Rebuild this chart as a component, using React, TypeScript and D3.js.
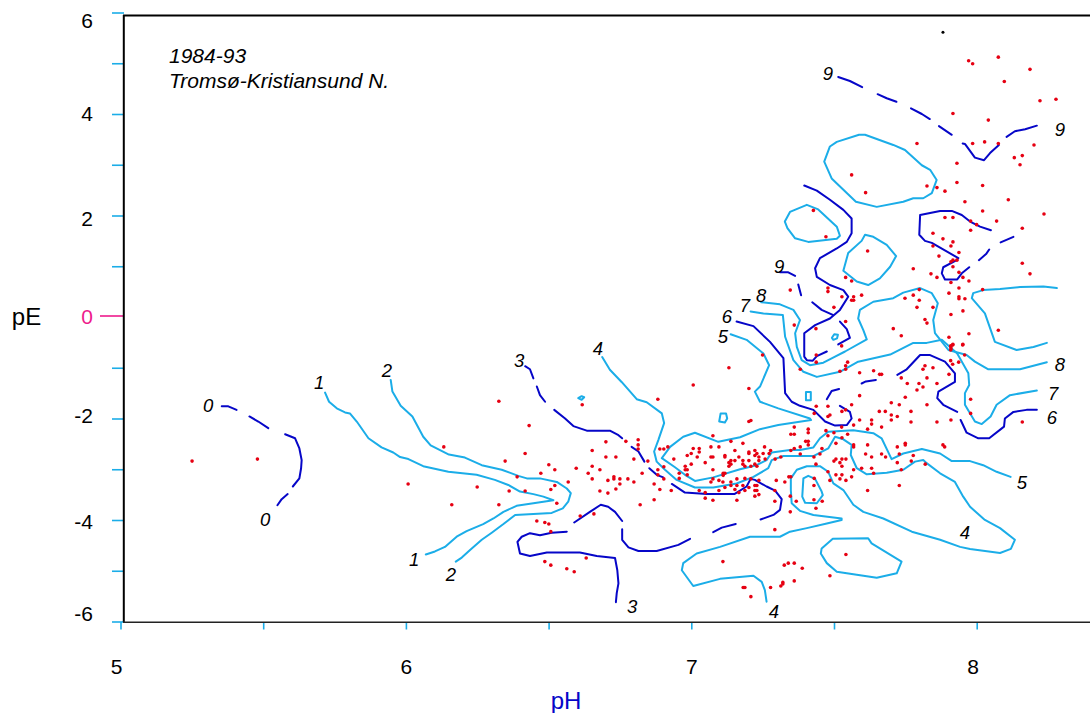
import React from "react";
import * as d3 from "d3";

type Pt = [number, number];

const level0: Pt[][] = [
  [[5.353,-1.75],[5.376,-1.75],[5.405,-1.82]],
  [[5.45,-1.95],[5.481,-2.05],[5.516,-2.18]],
  [[5.575,-2.30],[5.61,-2.38],[5.625,-2.58],[5.633,-2.81],[5.631,-2.97],[5.625,-3.17],[5.602,-3.33]],
  [[5.584,-3.48],[5.563,-3.58],[5.548,-3.70]],
];
const level1: Pt[][] = [
  [[5.715,-1.48],[5.729,-1.66],[5.756,-1.79],[5.785,-1.87],[5.802,-1.89],[5.826,-2.05],[5.867,-2.38],[5.913,-2.56],[5.954,-2.66],[5.978,-2.75],[6.007,-2.79],[6.059,-2.93],[6.147,-3.04],[6.246,-3.10],[6.31,-3.20],[6.357,-3.30],[6.398,-3.43],[6.445,-3.48],[6.48,-3.53],[6.515,-3.60],[6.445,-3.66],[6.386,-3.71],[6.34,-3.83],[6.305,-3.96],[6.269,-4.07],[6.211,-4.21],[6.176,-4.32],[6.135,-4.52],[6.10,-4.61],[6.068,-4.67]],
];
const level2: Pt[][] = [
  [[5.945,-1.23],[5.951,-1.46],[5.98,-1.74],[6.021,-1.95],[6.059,-2.35],[6.085,-2.52],[6.149,-2.70],[6.205,-2.76],[6.264,-2.91],[6.334,-3.00],[6.392,-3.12],[6.422,-3.17],[6.468,-3.17],[6.527,-3.24],[6.562,-3.37],[6.576,-3.46],[6.567,-3.63],[6.548,-3.76],[6.509,-3.85],[6.445,-3.87],[6.381,-3.89],[6.34,-4.07],[6.299,-4.24],[6.264,-4.38],[6.223,-4.58],[6.194,-4.73],[6.173,-4.81]],
];
const level3: Pt[][] = [
  [[6.416,-0.96],[6.433,-1.02],[6.445,-1.20]],
  [[6.457,-1.36],[6.468,-1.53],[6.486,-1.66]],
  [[6.518,-1.82],[6.556,-1.99],[6.585,-2.14],[6.632,-2.23],[6.713,-2.23],[6.743,-2.32],[6.756,-2.38]],
  [[6.789,-2.55],[6.813,-2.64],[6.834,-2.84]],
  [[6.851,-2.97],[6.877,-3.10],[6.90,-3.15]],
  [[6.93,-3.28],[6.976,-3.45],[7.052,-3.48],[7.149,-3.48],[7.192,-3.33],[7.206,-3.18],[7.221,-3.20],[7.262,-3.33],[7.292,-3.41],[7.315,-3.58],[7.309,-3.79],[7.286,-3.89],[7.241,-3.98]],
  [[7.154,-4.07],[7.105,-4.14],[7.075,-4.23]],
  [[6.756,-4.17],[6.756,-4.38],[6.778,-4.53],[6.813,-4.60],[6.877,-4.60],[6.953,-4.48],[6.994,-4.36]],
  [[6.756,-4.01],[6.731,-3.83],[6.707,-3.73],[6.681,-3.69],[6.643,-3.83],[6.588,-4.04]],
  [[6.562,-4.22],[6.509,-4.24],[6.468,-4.29],[6.433,-4.25],[6.404,-4.32],[6.389,-4.42],[6.398,-4.65],[6.433,-4.70],[6.492,-4.63],[6.608,-4.63],[6.667,-4.70],[6.731,-4.74],[6.739,-4.98],[6.743,-5.24],[6.737,-5.43],[6.734,-5.61]],
];
const level4: Pt[][] = [
  [[6.686,-0.78],[6.713,-1.03],[6.754,-1.27],[6.807,-1.61],[6.842,-1.67],[6.895,-1.89],[6.903,-2.08],[6.883,-2.41],[6.868,-2.64],[6.877,-2.84],[6.906,-3.00],[6.947,-3.20],[7.011,-3.35],[7.075,-3.35],[7.157,-3.27],[7.216,-3.14],[7.268,-2.97],[7.28,-2.81],[7.321,-2.73],[7.426,-2.73],[7.478,-2.58],[7.502,-2.35],[7.531,-2.40],[7.56,-2.51],[7.557,-2.71],[7.578,-2.97],[7.613,-3.09],[7.683,-3.06],[7.741,-3.00],[7.782,-2.84],[7.811,-2.81],[7.823,-2.87],[7.87,-3.07],[7.922,-3.24],[7.951,-3.53],[7.975,-3.73],[8.027,-3.99],[8.08,-4.15],[8.132,-4.38],[8.118,-4.56],[8.08,-4.64],[7.975,-4.56],[7.94,-4.52],[7.87,-4.38],[7.771,-4.22],[7.671,-3.96],[7.601,-3.83],[7.566,-3.69],[7.531,-3.40],[7.496,-3.27],[7.478,-3.04],[7.449,-2.93],[7.403,-2.93],[7.368,-3.00],[7.347,-3.17],[7.347,-3.40],[7.35,-3.66],[7.379,-3.81],[7.426,-3.89],[7.525,-3.96],[7.525,-3.99],[7.473,-4.06],[7.403,-4.15],[7.344,-4.22],[7.309,-4.32],[7.204,-4.32],[7.099,-4.52],[7.017,-4.65],[6.97,-4.84],[6.965,-4.98],[7.005,-5.29],[7.099,-5.15],[7.216,-5.09],[7.245,-5.21],[7.256,-5.37],[7.262,-5.60]],
];
const level5: Pt[][] = [
  [[7.136,-0.33],[7.192,-0.44],[7.251,-0.71],[7.271,-0.94],[7.239,-1.36],[7.221,-1.46],[7.239,-1.66],[7.303,-1.79],[7.414,-1.99],[7.418,-2.02],[7.303,-2.12],[7.239,-2.20],[7.169,-2.36],[7.093,-2.45],[7.011,-2.27],[6.97,-2.35],[6.924,-2.55],[6.895,-2.77],[6.941,-2.95],[6.976,-3.10],[7.011,-3.22],[7.075,-3.15],[7.169,-2.99],[7.227,-2.91],[7.262,-2.81],[7.28,-2.66],[7.344,-2.61],[7.379,-2.61],[7.426,-2.56],[7.449,-2.38],[7.478,-2.25],[7.566,-2.22],[7.636,-2.28],[7.665,-2.38],[7.70,-2.79],[7.741,-2.68],[7.806,-2.59],[7.87,-2.68],[7.911,-2.83],[7.975,-2.83],[8.021,-2.91],[8.068,-3.04],[8.117,-3.14]],
];
const level6: Pt[][] = [
  [[7.157,-0.08],[7.216,-0.17],[7.274,-0.48],[7.321,-0.80],[7.327,-1.49],[7.35,-1.66],[7.379,-1.74],[7.426,-1.82],[7.467,-2.05],[7.502,-2.13],[7.543,-2.12],[7.56,-1.99],[7.554,-1.86],[7.519,-1.74]],
  [[7.516,-1.41],[7.49,-1.45],[7.473,-1.61]],
  [[7.645,-1.23],[7.61,-1.26],[7.595,-1.30]],
  [[7.72,-1.13],[7.753,-1.02],[7.80,-0.74],[7.835,-0.74],[7.887,-0.87],[7.922,-1.10],[7.922,-1.27],[7.864,-1.46],[7.86,-1.59],[7.881,-1.72],[7.93,-1.86]],
  [[7.942,-2.02],[7.963,-2.27],[8.004,-2.38],[8.042,-2.38],[8.094,-2.15],[8.097,-1.99],[8.127,-1.86],[8.173,-1.82],[8.209,-1.82]],
];
const level7: Pt[][] = [
  [[7.206,0.12],[7.251,0.08],[7.319,0.05],[7.327,-0.38],[7.356,-0.84],[7.391,-1.07],[7.438,-1.17],[7.519,-1.07],[7.583,-0.87],[7.695,-0.73],[7.776,-0.50],[7.823,-0.50],[7.876,-0.44],[7.93,-0.71],[7.969,-1.10],[7.972,-1.33],[7.957,-1.49],[7.957,-1.72],[7.992,-2.05],[8.016,-2.10],[8.047,-1.95],[8.068,-1.72],[8.115,-1.53],[8.209,-1.44]],
];
const level8: Pt[][] = [
  [[7.243,0.30],[7.309,0.26],[7.356,0.15],[7.379,-0.05],[7.362,-0.31],[7.368,-0.58],[7.385,-0.84],[7.414,-0.94],[7.461,-0.89],[7.502,-0.77],[7.537,-0.67],[7.613,-0.43],[7.601,-0.25],[7.583,-0.02],[7.589,0.15],[7.636,0.31],[7.706,0.38],[7.741,0.49],[7.80,0.58],[7.841,0.48],[7.862,0.28],[7.846,-0.05],[7.852,-0.31],[7.899,-0.64],[7.963,-0.74],[7.992,-0.87],[8.039,-1.02],[8.15,-1.02],[8.244,-0.88]],
  [[8.279,0.58],[8.232,0.61],[8.15,0.60],[8.08,0.56],[8.021,0.54],[7.986,0.48],[7.981,0.38],[8.027,0.08],[8.062,-0.48],[8.138,-0.64],[8.197,-0.58],[8.244,-0.50]],
];
const level9: Pt[][] = [
  [[7.309,0.89],[7.338,0.89],[7.362,0.82]],
  [[7.373,0.65],[7.383,0.44]],
  [[7.422,0.30],[7.455,0.15],[7.494,0.05]],
  [[7.519,-0.08],[7.543,-0.23],[7.554,-0.40],[7.513,-0.53]],
  [[7.473,-0.67],[7.438,-0.76],[7.424,-0.85],[7.403,-0.84],[7.394,-0.77],[7.394,-0.31],[7.432,-0.15],[7.484,-0.02],[7.519,0.15],[7.548,0.41],[7.531,0.54],[7.484,0.64],[7.438,0.80],[7.432,0.97],[7.449,1.17],[7.508,1.36],[7.543,1.49],[7.56,1.66],[7.56,1.95],[7.531,2.12],[7.484,2.32],[7.438,2.50],[7.394,2.60]],
  [[8.048,1.72],[8.01,1.79],[7.975,1.89],[7.946,2.02],[7.911,2.10],[7.87,2.10],[7.80,2.02],[7.797,1.63],[7.817,1.51],[7.841,1.47],[7.934,1.17],[7.928,1.13],[7.881,0.99],[7.876,0.87],[7.887,0.75],[7.93,0.75],[7.946,0.87],[7.972,0.99]],
  [[8.006,1.13],[8.031,1.25],[8.042,1.34]],
  [[8.082,1.48],[8.127,1.59]],
  [[7.513,4.74],[7.554,4.66],[7.597,4.54]],
  [[7.651,4.40],[7.683,4.32],[7.717,4.25]],
  [[7.768,4.12],[7.806,4.01],[7.834,3.91]],
  [[7.866,3.77],[7.911,3.60]],
  [[7.949,3.43],[7.957,3.42],[7.992,3.15],[8.024,3.10],[8.045,3.24],[8.076,3.40]],
  [[8.103,3.56],[8.132,3.67],[8.168,3.71],[8.209,3.78]],
];
const lightLoops: Pt[][] = [
  [[7.391,-3.17],[7.408,-3.12],[7.432,-3.18],[7.455,-3.43],[7.459,-3.50],[7.438,-3.66],[7.397,-3.65],[7.387,-3.53]],
  [[7.494,-4.36],[7.618,-4.35],[7.63,-4.45],[7.735,-4.81],[7.718,-5.04],[7.648,-5.13],[7.578,-5.07],[7.508,-5.01],[7.473,-4.84],[7.452,-4.65],[7.455,-4.55]],
  [[7.101,-1.89],[7.12,-1.89],[7.124,-1.99],[7.116,-2.07],[7.096,-2.05]],
  [[7.40,-1.47],[7.417,-1.47],[7.417,-1.63],[7.40,-1.63]],
  [[6.602,-1.59],[6.614,-1.55],[6.623,-1.57],[6.614,-1.62]],
  [[7.491,-0.40],[7.499,-0.33],[7.512,-0.34],[7.509,-0.41],[7.496,-0.44]],
  [[7.586,3.60],[7.607,3.60],[7.706,3.40],[7.747,3.30],[7.806,3.00],[7.835,2.91],[7.858,2.71],[7.841,2.45],[7.811,2.35],[7.776,2.35],[7.741,2.28],[7.648,2.18],[7.575,2.28],[7.49,2.74],[7.464,3.07],[7.484,3.37],[7.508,3.46]],
  [[7.403,2.22],[7.443,2.13],[7.508,1.79],[7.519,1.61],[7.508,1.55],[7.408,1.49],[7.362,1.56],[7.335,1.76],[7.326,1.89],[7.344,2.08]],
  [[7.607,1.63],[7.636,1.59],[7.683,1.43],[7.716,1.21],[7.695,1.00],[7.659,0.77],[7.618,0.64],[7.578,0.71],[7.531,0.92],[7.548,1.27],[7.595,1.51]],
];

const redDots: Pt[] = [
  [5.249,-2.83],[5.478,-2.79],[6.006,-3.28],[6.131,-2.55],[6.159,-3.69],[6.248,-3.34],[6.324,-1.65],[6.324,-3.69],[6.346,-2.83],[6.36,-3.42],[6.388,-3.14],[6.416,-2.68],[6.416,-3.42],[6.43,-2.13],[6.457,-4.01],[6.471,-3.07],[6.485,-4.04],[6.499,-2.90],[6.499,-4.07],[6.506,-3.39],[6.52,-3.00],[6.52,-3.31],[6.527,-3.66],[6.506,-4.22],[6.485,-4.81],[6.506,-4.88],[6.562,-4.95],[6.588,-5.01],[6.63,-4.74],[6.567,-3.24],[6.609,-3.91],[6.657,-3.87],[6.616,-1.72],[6.595,-2.97],[6.637,-3.07],[6.651,-2.62],[6.651,-2.93],[6.651,-3.18],[6.678,-3.00],[6.678,-3.42],[6.699,-2.45],[6.699,-2.75],[6.706,-3.21],[6.706,-3.46],[6.727,-3.14],[6.727,-3.18],[6.734,-2.75],[6.734,-3.38],[6.748,-3.18],[6.748,-3.28],[6.769,-2.44],[6.776,-3.18],[6.797,-2.79],[6.797,-3.24],[6.812,-2.41],[6.812,-2.51],[6.812,-2.59],[6.819,-3.69],[6.826,-3.07],[6.846,-2.83],[6.868,-3.28],[6.868,-3.59],[6.881,-1.61],[6.881,-3.00],[6.881,-3.10],[6.888,-2.59],[6.902,-2.59],[6.916,-2.55],[6.902,-2.94],[6.902,-3.18],[6.888,-3.39],
  [7.074,-2.33],[7.137,-2.44],[7.179,-2.48],[7.005,-2.58],[7.026,-2.58],[7.026,-2.65],[7.067,-2.55],[7.095,-2.55],[7.151,-2.62],[7.221,-2.62],[7.255,-2.55],[7.276,-2.62],[6.984,-2.72],[6.998,-2.68],[7.019,-2.75],[7.067,-2.75],[7.074,-2.75],[7.116,-2.72],[7.116,-2.75],[7.165,-2.75],[7.20,-2.65],[7.20,-2.68],[7.221,-2.72],[7.228,-2.68],[7.235,-2.75],[7.25,-2.68],[7.271,-2.68],[6.937,-2.79],[7.151,-2.82],[7.179,-2.82],[7.20,-2.82],[7.235,-2.82],[7.257,-2.79],[7.292,-2.79],[7.312,-2.75],[7.137,-2.82],[7.13,-2.86],[7.137,-2.89],[7.047,-2.86],[6.998,-2.89],[6.977,-2.93],[7.13,-2.93],[7.179,-2.89],[7.186,-2.93],[7.207,-2.93],[7.221,-2.89],[7.228,-2.93],[6.977,-3.00],[6.984,-3.00],[7.074,-3.00],[6.956,-3.07],[6.984,-3.10],[7.11,-3.07],[7.116,-3.07],[7.11,-3.11],[6.956,-3.17],[7.074,-3.18],[7.158,-3.18],[7.186,-3.17],[7.207,-3.18],[7.235,-3.21],[7.296,-3.21],[7.067,-3.24],[7.095,-3.21],[7.109,-3.24],[7.137,-3.24],[7.137,-3.31],[7.116,-3.35],[7.158,-3.31],[7.179,-3.31],[7.20,-3.35],[7.221,-3.31],[7.228,-3.31],[7.326,-3.24],[7.34,-3.14],[7.347,-3.14],[7.026,-3.41],[7.047,-3.45],[7.095,-3.41],[7.151,-3.39],[7.165,-3.45],[7.186,-3.41],[7.221,-3.41],[7.228,-3.41],[7.291,-3.41],[6.928,-3.41],[7.221,-3.52],[7.235,-3.49],[7.047,-3.56],[7.074,-3.60],[7.158,-3.60],[7.291,-3.62],[7.345,-3.52],[7.366,-3.62],[7.345,-3.83],[7.291,-4.18],[7.005,-1.33],[7.20,-1.40],[7.20,-2.05],[7.207,-2.03],[7.109,-4.81],[7.18,-5.32],[7.186,-5.32],[7.207,-5.50],[7.276,-5.32],[7.312,-5.29],[7.319,-5.25],[7.319,-5.22],[7.359,-5.19],[7.324,-4.88],[7.338,-4.84],[7.359,-4.84],[7.387,-4.94],[7.484,-5.09],[7.54,-4.67],
  [7.436,-0.74],[7.436,-0.88],[7.38,-1.02],[7.525,-0.56],[7.546,-0.88],[7.539,-0.95],[7.539,-1.02],[7.519,-1.06],[7.588,-1.09],[7.637,-1.05],[7.658,-1.12],[7.665,-1.12],[7.734,-1.19],[7.755,-1.30],[7.796,-1.30],[7.81,-1.37],[7.789,-1.43],[7.824,-1.19],[7.859,-1.30],[7.81,-1.02],[7.817,-0.95],[7.845,-0.99],[7.901,-1.12],[7.907,-0.85],[7.914,-0.92],[7.935,-0.88],[7.956,-0.74],[7.907,-0.64],[7.907,-0.56],[7.914,-0.54],[7.949,-0.54],[7.588,-1.54],[7.748,-1.57],[7.699,-1.68],[7.727,-1.72],[7.824,-1.72],[7.56,-1.72],[7.477,-1.75],[7.436,-1.75],[7.526,-1.85],[7.539,-1.82],[7.429,-1.89],[7.484,-1.92],[7.477,-1.95],[7.657,-1.85],[7.678,-1.85],[7.768,-1.85],[7.699,-1.92],[7.72,-1.95],[7.699,-2.02],[7.588,-2.02],[7.63,-2.02],[7.63,-2.10],[7.768,-2.06],[7.859,-2.06],[7.908,-2.02],[7.567,-2.12],[7.525,-2.16],[7.616,-2.20],[7.665,-2.16],[7.359,-2.16],[7.408,-2.20],[7.408,-2.27],[7.47,-2.23],[7.498,-2.27],[7.546,-2.30],[7.477,-2.33],[7.526,-2.37],[7.347,-2.30],[7.359,-2.30],[7.399,-2.44],[7.408,-2.44],[7.408,-2.51],[7.505,-2.48],[7.567,-2.51],[7.567,-2.55],[7.616,-2.51],[7.72,-2.55],[7.748,-2.48],[7.748,-2.51],[7.88,-2.51],[7.886,-2.55],[7.359,-2.58],[7.347,-2.62],[7.38,-2.55],[7.456,-2.58],[7.449,-2.69],[7.38,-2.69],[7.428,-2.75],[7.609,-2.69],[7.665,-2.69],[7.63,-2.75],[7.679,-2.75],[7.727,-2.69],[7.776,-2.72],[7.769,-2.83],[7.72,-2.86],[7.54,-2.79],[7.526,-2.79],[7.505,-2.79],[7.498,-2.83],[7.519,-2.86],[7.526,-2.93],[7.435,-2.89],[7.595,-2.97],[7.63,-2.97],[7.567,-3.00],[7.734,-3.00],[7.818,-2.89],[7.637,-3.07],[7.477,-3.04],[7.505,-3.10],[7.526,-3.10],[7.56,-3.14],[7.519,-3.18],[7.54,-3.21],[7.484,-3.21],[7.429,-3.17],[7.428,-3.31],[7.727,-3.31],[7.616,-3.41],[7.428,-3.59],[7.457,-3.62],[7.435,-3.76],
  [7.824,2.59],[7.859,2.56],[7.887,2.49],[7.929,2.66],[8.019,2.60],[7.957,2.28],[8.109,2.32],[8.234,2.04],[8.019,2.10],[7.887,1.97],[7.915,1.97],[7.977,1.90],[7.998,1.83],[8.068,1.90],[7.977,1.72],[8.158,1.76],[7.845,1.66],[7.88,1.55],[7.915,1.49],[7.845,1.41],[7.908,1.41],[7.936,1.28],[7.866,1.21],[7.915,1.13],[7.929,1.13],[7.908,1.10],[7.915,1.00],[7.776,0.96],[8.158,1.07],[7.936,0.89],[7.838,0.86],[8.185,0.86],[7.859,0.79],[7.95,0.79],[7.971,0.72],[7.908,0.69],[7.936,0.58],[8.019,0.55],[7.797,0.55],[7.901,0.48],[7.776,0.44],[7.747,0.38],[7.936,0.41],[7.936,0.37],[7.957,0.37],[7.797,0.34],[7.789,0.20],[7.845,0.20],[7.95,0.13],[7.908,0.06],[7.817,-0.04],[7.824,-0.11],[7.706,-0.22],[7.734,-0.36],[7.901,-0.39],[7.971,-0.32],[8.074,-0.25],[7.95,-0.53],[7.915,-0.53],[7.908,-0.58],[7.908,-0.62],
  [7.426,2.11],[7.47,1.59],[7.609,2.46],[7.56,2.81],[7.616,1.31],[7.539,0.79],[7.56,0.72],[7.477,0.58],[7.477,0.51],[7.526,0.41],[7.567,0.41],[7.567,0.34],[7.56,0.34],[7.595,0.44],[7.498,0.20],[7.345,0.54],[7.13,-0.99],[7.359,-0.15],[7.435,-0.22],[7.539,-0.08],[7.248,-0.74],
  [7.97,5.06],[7.984,5.00],[8.074,5.13],[8.185,4.89],[8.095,4.65],[8.22,4.27],[8.276,4.30],[7.915,4.02],[8.039,3.89],[7.789,3.43],[7.984,3.43],[8.026,3.46],[8.074,3.43],[8.199,3.40],[8.158,3.19],[8.13,3.15],[8.15,3.01],[7.929,3.04],
  [8.158,-2.06],[7.977,-1.61],[7.977,-1.89],
];
const blackDots: Pt[] = [[7.88,5.62]];

const contourLabels: { text: string; at: Pt }[] = [
  { text: "0", at: [5.305,-1.74] }, { text: "0", at: [5.505,-3.99] },
  { text: "1", at: [5.694,-1.29] }, { text: "1", at: [6.027,-4.76] },
  { text: "2", at: [5.932,-1.05] }, { text: "2", at: [6.156,-5.07] },
  { text: "3", at: [6.395,-0.84] }, { text: "3", at: [6.791,-5.70] },
  { text: "4", at: [6.671,-0.62] }, { text: "4", at: [7.288,-5.80] }, { text: "4", at: [7.957,-4.23] },
  { text: "5", at: [7.109,-0.38] }, { text: "5", at: [8.157,-3.26] },
  { text: "6", at: [7.123,0.01] }, { text: "6", at: [8.262,-1.98] },
  { text: "7", at: [7.186,0.23] }, { text: "7", at: [8.266,-1.49] },
  { text: "8", at: [7.243,0.44] }, { text: "8", at: [8.29,-0.92] },
  { text: "9", at: [7.306,1.01] }, { text: "9", at: [7.477,4.80] }, { text: "9", at: [8.29,3.71] },
];

const yTicks = [6, 5, 4, 3, 2, 1, -1, -2, -3, -4, -5, -6];
const yLabels = [6, 4, 2, 0, -2, -4, -6];
const yLabelShift: Record<string, number> = { "6": 7, "4": -1, "2": 2, "0": -1, "-2": -4, "-4": 1, "-6": -9 };
const xTicks = [5, 5.5, 6, 6.5, 7, 7.5, 8];
const xLabels = [5, 6, 7, 8];
const xLabelShift: Record<string, number> = { "5": -4.5, "6": 0, "7": 0, "8": -4 };

const LIGHT = "#1bade8";
const DARK = "#0606c8";
const RED = "#e60012";
const PINK = "#ee1a8c";
const FONT = "'Liberation Sans', Arial, sans-serif";

export default function App() {
  const x = d3.scaleLinear().domain([5, 8]).range([121, 977.2]);
  const y = d3.scaleLinear().domain([6, -6]).range([13, 622]);
  const line = d3.line<Pt>().x((d) => x(d[0])).y((d) => y(d[1]));
  const loop = d3.line<Pt>().x((d) => x(d[0])).y((d) => y(d[1])).curve(d3.curveLinearClosed);
  const light = [...level1, ...level2, ...level4, ...level5, ...level7, ...level8];
  const dark = [...level0, ...level3, ...level6, ...level9];
  return (
    <svg width={1090} height={713} style={{ position: "absolute", left: 0, top: 0, display: "block", background: "#fff", fontFamily: FONT }}>
      {yTicks.map((t) => (
        <line key={t} x1={112} x2={124} y1={y(t)} y2={y(t)} stroke={LIGHT} strokeWidth={1.6} />
      ))}
      <line x1={100} x2={124} y1={y(0) - 1.5} y2={y(0) - 1.5} stroke={PINK} strokeWidth={1.6} />
      {xTicks.map((t) => (
        <line key={t} x1={x(t)} x2={x(t)} y1={622} y2={629.5} stroke={LIGHT} strokeWidth={1.6} />
      ))}
      <line x1={123} x2={1090} y1={15.6} y2={15.6} stroke="#000" strokeWidth={2} />
      <line x1={123.8} x2={123.8} y1={15} y2={622} stroke="#000" strokeWidth={2} />
      <line x1={123} x2={1090} y1={622.3} y2={622.3} stroke="#222" strokeWidth={1.6} />
      {yLabels.map((t) => (
        <text key={t} x={93} y={y(t) + 7.5 + yLabelShift[String(t)]} fontSize={21} textAnchor="end" fill={t === 0 ? PINK : "#000"}>{t}</text>
      ))}
      {xLabels.map((t) => (
        <text key={t} x={x(t) + xLabelShift[String(t)]} y={673.5} fontSize={21} textAnchor="middle" fill="#000">{t}</text>
      ))}
      <text x={26.5} y={325} fontSize={24} textAnchor="middle" fill="#000">pE</text>
      <text x={566} y={708.5} fontSize={24} textAnchor="middle" fill={DARK}>pH</text>
      <text x={169} y={62.5} fontSize={21} fontStyle="italic" fill="#000">1984-93</text>
      <text x={169} y={87.5} fontSize={21} fontStyle="italic" fill="#000">Tromsø-Kristiansund N.</text>
      <g fill="none" stroke={LIGHT} strokeWidth={2} strokeLinejoin="round" strokeLinecap="round">
        {light.map((s, i) => <path key={i} d={line(s) ?? ""} />)}
        {lightLoops.map((s, i) => <path key={i} d={loop(s) ?? ""} />)}
      </g>
      <g fill="none" stroke={DARK} strokeWidth={2} strokeLinejoin="round" strokeLinecap="round">
        {dark.map((s, i) => <path key={i} d={line(s) ?? ""} />)}
      </g>
      <g fill={RED}>
        {redDots.map((d, i) => <circle key={i} cx={x(d[0])} cy={y(d[1])} r={1.8} />)}
      </g>
      <g fill="#000">
        {blackDots.map((d, i) => <circle key={i} cx={x(d[0])} cy={y(d[1])} r={1.5} />)}
      </g>
      <g fontSize={18.5} fontStyle="italic" textAnchor="middle" fill="#000">
        {contourLabels.map((l, i) => (
          <text key={i} x={x(l.at[0])} y={y(l.at[1]) + 6.5}>{l.text}</text>
        ))}
      </g>
    </svg>
  );
}
